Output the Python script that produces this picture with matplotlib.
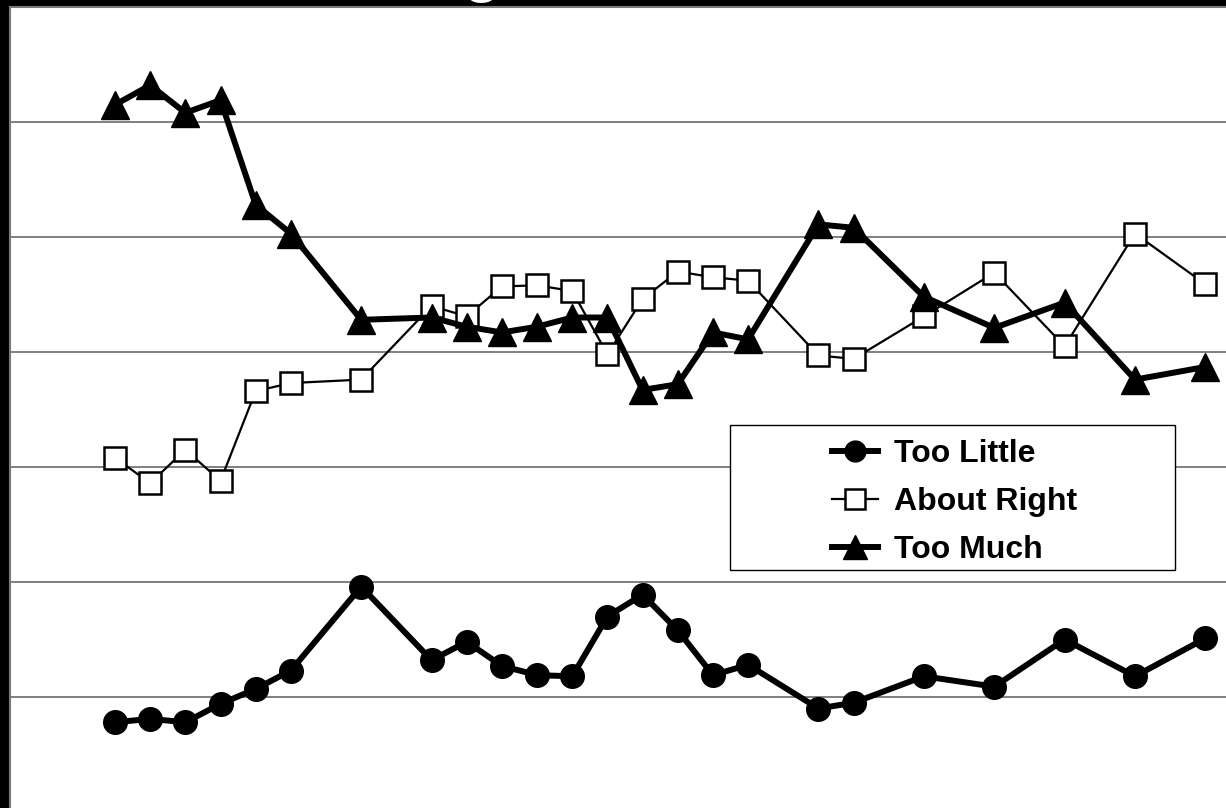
import matplotlib
matplotlib.use("Agg")
import matplotlib.pyplot as plt
from matplotlib.lines import Line2D
from matplotlib.patches import Rectangle

plt.rcParams['font.family'] = ['Liberation Sans', 'DejaVu Sans']

# survey years and the share of answers (percent) for each response
years = [1973, 1974, 1975, 1976, 1977, 1978, 1980, 1982, 1983, 1984, 1985, 1986,
         1987, 1988, 1989, 1990, 1991, 1993, 1994, 1996, 1998, 2000, 2002, 2004]
too_little = [7.8, 8.1, 7.8, 9.4, 10.7, 12.3, 19.6, 13.2, 14.8, 12.7, 11.9, 11.8,
              17.0, 18.9, 15.8, 11.9, 12.8, 9.0, 9.5, 11.8, 10.9, 15.0, 11.8, 15.1]
about_right = [30.8, 28.6, 31.5, 28.8, 36.6, 37.3, 37.6, 44.0, 43.1, 45.7, 45.8, 45.3,
               39.8, 44.6, 47.0, 46.5, 46.2, 39.7, 39.4, 43.1, 46.9, 40.5, 50.3, 45.9]
too_much = [61.5, 63.2, 60.8, 61.9, 52.8, 50.3, 42.8, 43.0, 42.2, 41.7, 42.2, 43.0,
            43.0, 36.7, 37.2, 41.7, 41.1, 51.1, 50.8, 44.8, 42.1, 44.3, 37.6, 38.7]
grid_levels = [10, 20, 30, 40, 50, 60]

fig = plt.figure(figsize=(12.26, 8.08), dpi=100, facecolor='black')
ax = fig.add_axes([9.5 / 1226, -4 / 808, 1231 / 1226, 805 / 808])
ax.set_facecolor('white')
ax.set_xlim(1970, 2005)
ax.set_ylim(0, 70)

for lvl in grid_levels:
    ax.axhline(lvl, color='#6a6a6a', lw=1.2, zorder=1)

ax.plot(years, too_little, color='black', lw=4.3, marker='o', ms=17,
        mfc='black', mec='black', zorder=3, label='Too Little')
ax.plot(years, about_right, color='black', lw=1.6, marker='s', ms=16.5,
        mfc='white', mec='black', mew=1.8, zorder=3, label='About Right')
ax.plot(years, too_much, color='black', lw=4.3, marker='^', ms=20,
        mfc='black', mec='black', zorder=4, label='Too Much')

ax.set_xticks([])
ax.set_yticks([])
for side in ['right', 'bottom']:
    ax.spines[side].set_visible(False)
for side in ['left', 'top']:
    ax.spines[side].set_color('#7a7a7a')
    ax.spines[side].set_linewidth(1.5)

# legend box, drawn separately so it can be wider than its entries
fig.patches.append(Rectangle((730 / 1226, 1 - 570 / 808), 445 / 1226, 145 / 808,
                             transform=fig.transFigure, facecolor='white',
                             edgecolor='black', lw=1.0, zorder=5))
handles = [
    Line2D([], [], color='black', lw=4.3, marker='o', ms=15),
    Line2D([], [], color='black', lw=1.6, marker='s', ms=15, mfc='white', mew=1.8),
    Line2D([], [], color='black', lw=4.3, marker='^', ms=17),
]
leg = fig.legend(handles, ['Too Little', 'About Right', 'Too Much'],
                 loc='upper left', bbox_to_anchor=(816 / 1226, 1 - 423 / 808),
                 frameon=False, borderpad=0, handlelength=1.45, handletextpad=0.5,
                 labelspacing=0.56, prop={'weight': 'bold', 'size': 23})
leg.set_zorder(6)

# bottom of the title, which runs off the top edge
fig.text(462 / 1226, 1 + 12 / 808, 'g,', color='white', fontsize=52,
         ha='left', va='baseline')

fig.savefig('out.png', dpi=100, facecolor=fig.get_facecolor())
